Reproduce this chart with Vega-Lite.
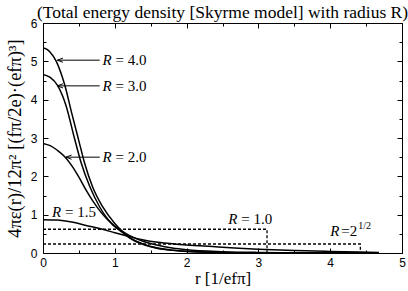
{
  "$schema": "https://vega.github.io/schema/vega-lite/v6.json",
  "width": 359,
  "height": 230,
  "autosize": {"type": "none"},
  "padding": {"left": 43, "top": 23, "right": 6, "bottom": 38},
  "background": "white",
  "title": {"text": "(Total energy density [Skyrme model] with radius R)", "font": "Liberation Serif", "fontSize": 17.5, "fontWeight": "normal", "color": "black", "anchor": "middle", "offset": -4},
  "config": {
    "view": {"stroke": "black", "strokeWidth": 1},
    "axis": {"domain": false, "grid": false, "tickColor": "black", "tickWidth": 1, "labelFont": "Liberation Sans", "labelFontSize": 12, "labelColor": "black", "titleFont": "Liberation Serif", "titleFontSize": 17, "titleFontWeight": "normal", "titleColor": "black", "labelFlush": false, "labelOverlap": false}
  },
  "datasets": {
    "curves": [
      {"R": "4.0", "r": 0, "v": 5.35}, {"R": "4.0", "r": 0.05, "v": 5.32}, {"R": "4.0", "r": 0.1, "v": 5.24}, {"R": "4.0", "r": 0.185, "v": 5.0}, {"R": "4.0", "r": 0.3, "v": 4.4}, {"R": "4.0", "r": 0.4, "v": 3.65}, {"R": "4.0", "r": 0.5, "v": 2.92}, {"R": "4.0", "r": 0.58, "v": 2.34}, {"R": "4.0", "r": 0.69, "v": 1.73}, {"R": "4.0", "r": 0.83, "v": 1.21}, {"R": "4.0", "r": 1.0, "v": 0.77}, {"R": "4.0", "r": 1.1, "v": 0.57}, {"R": "4.0", "r": 1.2, "v": 0.4}, {"R": "4.0", "r": 1.4, "v": 0.22}, {"R": "4.0", "r": 1.6, "v": 0.12}, {"R": "4.0", "r": 1.8, "v": 0.07}, {"R": "4.0", "r": 2.0, "v": 0.04}, {"R": "4.0", "r": 2.5, "v": 0.015}, {"R": "4.0", "r": 3.0, "v": 0.006}, {"R": "4.0", "r": 3.5, "v": 0.003}, {"R": "4.0", "r": 4.0, "v": 0.001}, {"R": "4.0", "r": 4.68, "v": 0},
      {"R": "3.0", "r": 0, "v": 4.66}, {"R": "3.0", "r": 0.1, "v": 4.58}, {"R": "3.0", "r": 0.2, "v": 4.38}, {"R": "3.0", "r": 0.32, "v": 3.85}, {"R": "3.0", "r": 0.44, "v": 2.98}, {"R": "3.0", "r": 0.53, "v": 2.36}, {"R": "3.0", "r": 0.65, "v": 1.74}, {"R": "3.0", "r": 0.79, "v": 1.2}, {"R": "3.0", "r": 0.97, "v": 0.74}, {"R": "3.0", "r": 1.09, "v": 0.56}, {"R": "3.0", "r": 1.2, "v": 0.41}, {"R": "3.0", "r": 1.4, "v": 0.23}, {"R": "3.0", "r": 1.6, "v": 0.13}, {"R": "3.0", "r": 1.8, "v": 0.075}, {"R": "3.0", "r": 2.0, "v": 0.045}, {"R": "3.0", "r": 2.5, "v": 0.015}, {"R": "3.0", "r": 3.0, "v": 0.006}, {"R": "3.0", "r": 4.0, "v": 0.001}, {"R": "3.0", "r": 4.68, "v": 0},
      {"R": "2.0", "r": 0, "v": 2.86}, {"R": "2.0", "r": 0.1, "v": 2.8}, {"R": "2.0", "r": 0.2, "v": 2.68}, {"R": "2.0", "r": 0.3, "v": 2.52}, {"R": "2.0", "r": 0.4, "v": 2.28}, {"R": "2.0", "r": 0.5, "v": 1.98}, {"R": "2.0", "r": 0.6, "v": 1.64}, {"R": "2.0", "r": 0.7, "v": 1.34}, {"R": "2.0", "r": 0.8, "v": 1.08}, {"R": "2.0", "r": 0.9, "v": 0.87}, {"R": "2.0", "r": 1.0, "v": 0.7}, {"R": "2.0", "r": 1.1, "v": 0.57}, {"R": "2.0", "r": 1.2, "v": 0.46}, {"R": "2.0", "r": 1.4, "v": 0.3}, {"R": "2.0", "r": 1.6, "v": 0.2}, {"R": "2.0", "r": 1.8, "v": 0.13}, {"R": "2.0", "r": 2.0, "v": 0.085}, {"R": "2.0", "r": 2.5, "v": 0.035}, {"R": "2.0", "r": 3.0, "v": 0.015}, {"R": "2.0", "r": 3.5, "v": 0.007}, {"R": "2.0", "r": 4.0, "v": 0.003}, {"R": "2.0", "r": 4.68, "v": 0},
      {"R": "1.5", "r": 0, "v": 0.87}, {"R": "1.5", "r": 0.2, "v": 0.86}, {"R": "1.5", "r": 0.4, "v": 0.81}, {"R": "1.5", "r": 0.6, "v": 0.72}, {"R": "1.5", "r": 0.8, "v": 0.63}, {"R": "1.5", "r": 1.0, "v": 0.53}, {"R": "1.5", "r": 1.2, "v": 0.43}, {"R": "1.5", "r": 1.4, "v": 0.34}, {"R": "1.5", "r": 1.6, "v": 0.28}, {"R": "1.5", "r": 1.8, "v": 0.24}, {"R": "1.5", "r": 2.0, "v": 0.21}, {"R": "1.5", "r": 2.2, "v": 0.19}, {"R": "1.5", "r": 2.5, "v": 0.15}, {"R": "1.5", "r": 3.0, "v": 0.1}, {"R": "1.5", "r": 3.5, "v": 0.065}, {"R": "1.5", "r": 4.0, "v": 0.04}, {"R": "1.5", "r": 4.4, "v": 0.025}, {"R": "1.5", "r": 4.68, "v": 0.015}
    ],
    "boxes": [
      {"R": "1.0", "i": 0, "r": 0, "v": 0.62}, {"R": "1.0", "i": 1, "r": 3.12, "v": 0.62}, {"R": "1.0", "i": 2, "r": 3.12, "v": 0},
      {"R": "sqrt2", "i": 0, "r": 0, "v": 0.235}, {"R": "sqrt2", "i": 1, "r": 4.42, "v": 0.235}, {"R": "sqrt2", "i": 2, "r": 4.42, "v": 0}
    ],
    "arrows": [
      {"R": "4.0", "tip": 0.2, "tail": 0.79, "v": 5.03},
      {"R": "3.0", "tip": 0.2, "tail": 0.79, "v": 4.36},
      {"R": "2.0", "tip": 0.32, "tail": 0.79, "v": 2.5}
    ],
    "labels": [
      {"rest": "= 4.0", "r": 0.83, "v": 5.03},
      {"rest": "= 3.0", "r": 0.83, "v": 4.36},
      {"rest": "= 2.0", "r": 0.83, "v": 2.5},
      {"rest": "= 1.5", "r": 0.125, "v": 1.07},
      {"rest": "= 1.0", "r": 2.58, "v": 0.89}
    ],
    "labels2": [
      {"rest": "=2", "r": 4.0, "v": 0.58}
    ],
    "sup": [{"t": "1/2", "r": 4.39, "v": 0.71}]
  },
  "layer": [
    {
      "data": {"name": "curves"},
      "mark": {"type": "line", "color": "black", "strokeWidth": 1.5, "interpolate": "monotone", "clip": true},
      "encoding": {
        "x": {"field": "r", "type": "quantitative", "scale": {"domain": [0, 5], "nice": false},
              "axis": {"orient": "bottom", "values": [0, 1, 2, 3, 4, 5], "tickSize": -5, "labelPadding": 9, "title": "r [1/efπ]", "titlePadding": 2}},
        "y": {"field": "v", "type": "quantitative", "scale": {"domain": [0, 6], "nice": false, "zero": true},
              "axis": {"orient": "left", "values": [0, 1, 2, 3, 4, 5, 6], "tickSize": -5, "labelPadding": 11, "title": "4πε(r)/12π² [(fπ/2e)·(efπ)³]", "titleFontSize": 18.5, "titlePadding": 6}},
        "detail": {"field": "R"}
      }
    },
    {
      "data": {"name": "boxes"},
      "mark": {"type": "line", "color": "black", "strokeWidth": 1.3, "strokeDash": [3, 2]},
      "encoding": {
        "x": {"field": "r", "type": "quantitative", "axis": {"orient": "bottom", "values": [0.5, 1.5, 2.5, 3.5, 4.5], "tickSize": -3, "labels": false, "title": null}},
        "y": {"field": "v", "type": "quantitative", "axis": {"orient": "left", "values": [0.5, 1.5, 2.5, 3.5, 4.5, 5.5], "tickSize": -3, "labels": false, "title": null}},
        "detail": {"field": "R"},
        "order": {"field": "i"}
      }
    },
    {
      "data": {"name": "arrows"},
      "mark": {"type": "rule", "color": "black", "strokeWidth": 1},
      "encoding": {
        "x": {"field": "tip", "type": "quantitative", "axis": {"orient": "top", "values": [0, 1, 2, 3, 4, 5], "tickSize": -5, "labels": false, "title": null}},
        "x2": {"field": "tail"},
        "y": {"field": "v", "type": "quantitative", "axis": {"orient": "right", "values": [0, 1, 2, 3, 4, 5, 6], "tickSize": -5, "labels": false, "title": null}}
      }
    },
    {
      "data": {"name": "arrows"},
      "mark": {"type": "point", "shape": "M1.6,-0.6L0,0L1.6,0.6", "size": 49, "filled": false, "stroke": "black", "strokeWidth": 1, "opacity": 1},
      "encoding": {
        "x": {"field": "tip", "type": "quantitative", "axis": {"orient": "top", "values": [0.5, 1.5, 2.5, 3.5, 4.5], "tickSize": -3, "labels": false, "title": null}},
        "y": {"field": "v", "type": "quantitative", "axis": {"orient": "right", "values": [0.5, 1.5, 2.5, 3.5, 4.5, 5.5], "tickSize": -3, "labels": false, "title": null}}
      }
    },
    {
      "data": {"name": "labels"},
      "mark": {"type": "text", "text": "R", "font": "Liberation Serif", "fontSize": 15, "fontStyle": "italic", "align": "left", "baseline": "middle", "color": "black"},
      "encoding": {
        "x": {"field": "r", "type": "quantitative", "axis": null},
        "y": {"field": "v", "type": "quantitative", "axis": null}
      }
    },
    {
      "data": {"name": "labels"},
      "mark": {"type": "text", "font": "Liberation Serif", "fontSize": 15, "align": "left", "baseline": "middle", "dx": 13, "color": "black"},
      "encoding": {
        "x": {"field": "r", "type": "quantitative", "axis": null},
        "y": {"field": "v", "type": "quantitative", "axis": null},
        "text": {"field": "rest"}
      }
    },
    {
      "data": {"name": "labels2"},
      "mark": {"type": "text", "text": "R", "font": "Liberation Serif", "fontSize": 15, "fontStyle": "italic", "align": "left", "baseline": "middle", "color": "black"},
      "encoding": {
        "x": {"field": "r", "type": "quantitative", "axis": null},
        "y": {"field": "v", "type": "quantitative", "axis": null}
      }
    },
    {
      "data": {"name": "labels2"},
      "mark": {"type": "text", "font": "Liberation Serif", "fontSize": 15, "align": "left", "baseline": "middle", "dx": 11, "color": "black"},
      "encoding": {
        "x": {"field": "r", "type": "quantitative", "axis": null},
        "y": {"field": "v", "type": "quantitative", "axis": null},
        "text": {"field": "rest"}
      }
    },
    {
      "data": {"name": "sup"},
      "mark": {"type": "text", "font": "Liberation Serif", "fontSize": 10, "align": "left", "baseline": "middle", "color": "black"},
      "encoding": {
        "x": {"field": "r", "type": "quantitative", "axis": null},
        "y": {"field": "v", "type": "quantitative", "axis": null},
        "text": {"field": "t"}
      }
    }
  ],
  "resolve": {"axis": {"x": "independent", "y": "independent"}}
}
